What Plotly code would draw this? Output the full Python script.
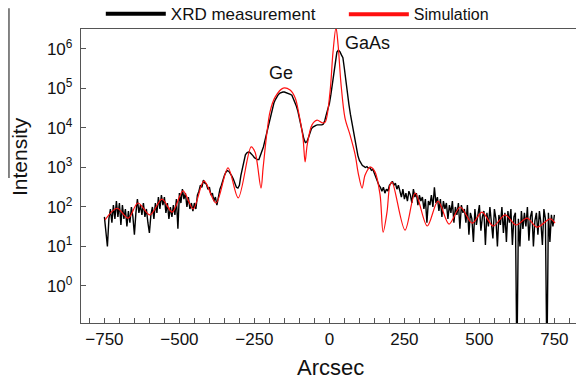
import plotly.graph_objects as go

# ---------------- data ----------------
meas_arcsec = list(range(-750, 755, 5))
meas_intensity = [
    56, 25, 10, 50, 89, 40, 112, 50, 141, 56,
    126, 35, 112, 50, 89, 32, 79, 40, 100, 56,
    20, 71, 158, 71, 112, 63, 126, 56, 89, 40,
    22, 63, 100, 50, 126, 71, 178, 89, 200, 112,
    178, 71, 126, 50, 100, 56, 112, 63, 158, 28,
    224, 126, 282, 158, 224, 100, 178, 89, 126, 79,
    126, 89, 200, 251, 355, 316, 479, 398, 380, 282,
    316, 200, 224, 141, 178, 112, 200, 282, 355, 501,
    631, 759, 832, 794, 708, 603, 501, 398, 316, 302,
    355, 631, 1000, 1585, 2089, 2344, 2455, 2399, 2239, 1995,
    1778, 1660, 1585, 1585, 1995, 2630, 3311, 4786, 7079, 10000,
    14100, 20000, 33100, 42700, 52500, 63100, 70800, 75900, 79400, 81300,
    81300, 79400, 77600, 74100, 70800, 67600, 56200, 44700, 35500, 26300,
    17800, 12000, 7590, 5250, 4270, 4470, 5620, 7590, 9550, 10500,
    11200, 11700, 12000, 12000, 12000, 12000, 12600, 15800, 22400, 31600,
    41700, 70800, 141000, 282000, 501000, 832000, 933000, 851000, 708000, 603000,
    316000, 141000, 75900, 39800, 22400, 13200, 7940, 4470, 2820, 2000,
    1510, 1260, 1120, 1070, 1000, 1050, 955, 1000, 851, 891,
    708, 501, 417, 355, 316, 251, 316, 224, 282, 251,
    355, 398, 447, 355, 398, 282, 355, 251, 178, 282,
    158, 224, 141, 251, 200, 126, 282, 178, 224, 112,
    200, 141, 178, 89, 158, 40, 141, 112, 200, 100,
    316, 126, 178, 79, 158, 56, 141, 89, 126, 50,
    112, 71, 141, 40, 100, 63, 126, 28, 112, 71,
    89, 40, 112, 20, 71, 50, 13, 89, 35, 63,
    112, 25, 56, 79, 11, 71, 32, 100, 45, 16,
    89, 50, 10, 63, 35, 100, 22, 71, 13, 79,
    40, 89, 11, 56, 71, 0.01, 50, 10, 79, 28,
    71, 32, 100, 14, 56, 79, 10, 45, 71, 20,
    79, 40, 11, 89, 50, 0.01, 71, 13, 63, 32,
    63,
]

sim_arcsec = [-748, -708, -671, -638, -598, -558, -524, -488, -454, -418,
              -378, -338, -304, -261, -248, -228, -221, -208, -198, -181,
              -154, -131, -114, -101, -88, -81, -74, -58, -41, -24,
              -14, 2, 12, 22, 29, 39, 52, 69, 86, 96,
              109, 119, 136, 152, 169, 179, 192, 202, 209, 252,
              286, 326, 362, 399, 436, 476, 509, 546, 586, 622,
              659, 692, 736, 752]
sim_intensity = [47, 93, 52, 126, 63, 158, 74, 257, 89, 457,
                 126, 977, 170, 3311, 2455, 302, 977, 7943, 25700, 60300,
                 102000, 91200, 57500, 21400, 5620, 1380, 3720, 12000, 15800, 13500,
                 14100, 81300, 832000, 3500000, 1260000, 123000, 17800, 6610, 2090, 724,
                 302, 646, 1023, 776, 200, 23, 74, 363, 427, 26,
                 224, 33, 141, 37, 100, 39, 74, 33, 63, 35,
                 52, 31, 50, 39]

x_ticks = [-750, -500, -250, 0, 250, 500, 750]
y_ticks = [1, 10, 100, 1000, 10000, 100000, 1000000]
y_tick_text = ["10<sup>0</sup>", "10<sup>1</sup>", "10<sup>2</sup>", "10<sup>3</sup>",
               "10<sup>4</sup>", "10<sup>5</sup>", "10<sup>6</sup>"]
series_names = ["XRD measurement", "Simulation"]
axis_titles = ["Arcsec", "Intensity"]
peak_labels = [("Ge", -161, 5.39), ("GaAs", 126, 6.15)]

FONT = "Liberation Sans, Arial, sans-serif"

fig = go.Figure()
fig.add_trace(go.Scatter(x=meas_arcsec, y=meas_intensity, mode="lines",
                         line=dict(color="black", width=1.4), showlegend=False))
fig.add_trace(go.Scatter(x=sim_arcsec, y=sim_intensity, mode="lines",
                         line=dict(color="#ff1010", width=1.2, shape="spline", smoothing=0.9),
                         showlegend=False))
# legend entries
fig.add_trace(go.Scatter(x=[None], y=[None], mode="lines", name=series_names[0],
                         line=dict(color="black", width=4), legend="legend"))
fig.add_trace(go.Scatter(x=[None], y=[None], mode="lines", name=series_names[1],
                         line=dict(color="#ff1010", width=4), legend="legend2"))

axis_common = dict(showgrid=False, zeroline=False, showline=True, linecolor="#555",
                   linewidth=1.3, ticks="inside", ticklen=5, tickcolor="#555",
                   automargin=False,
                   tickfont=dict(family=FONT, size=17, color="#111"))

fig.update_layout(
    width=576, height=376,
    margin=dict(l=81, r=0, t=29, b=53, autoexpand=False),
    paper_bgcolor="white", plot_bgcolor="white",
    font=dict(family=FONT, color="#111"),
    xaxis=dict(range=[-828, 822], tickvals=x_ticks, mirror=True,
               minor=dict(dtick=50, ticks="inside", ticklen=5, tickcolor="#555"),
               **axis_common),
    yaxis=dict(type="log", range=[-0.937, 6.506], tickvals=y_ticks, ticktext=y_tick_text,
               ticklabelstandoff=4, **axis_common),
    legend=dict(orientation="h", x=0.040, y=1.05, xanchor="left", yanchor="middle",
                font=dict(family=FONT, size=17, color="#111"), itemwidth=60,
                bgcolor="rgba(0,0,0,0)"),
    legend2=dict(orientation="h", x=0.531, y=1.05, xanchor="left", yanchor="middle",
                 font=dict(family=FONT, size=16, color="#111"), itemwidth=60,
                 bgcolor="rgba(0,0,0,0)"),
)

for text, xv, yv in peak_labels:
    fig.add_annotation(x=xv, y=yv, xref="x", yref="y", text=text, showarrow=False,
                       font=dict(family=FONT, size=18, color="#111"))

# axis titles
fig.add_annotation(x=0.505, y=-0.152, xref="paper", yref="paper", text=axis_titles[0],
                   showarrow=False, xanchor="center", yanchor="middle",
                   font=dict(family=FONT, size=22, color="#111"))
fig.add_annotation(x=-0.123, y=0.565, xref="paper", yref="paper", text=axis_titles[1],
                   textangle=-90, showarrow=False, xanchor="center", yanchor="middle",
                   font=dict(family=FONT, size=21, color="#111"))

fig.add_shape(type="line", xref="paper", yref="paper", x0=-0.1455, x1=-0.1455,
              y0=0.493, y1=1.071, line=dict(color="#333", width=1.2))

fig.write_html("out.html", config={"displayModeBar": False},
               post_script="document.body.style.margin='0';")
